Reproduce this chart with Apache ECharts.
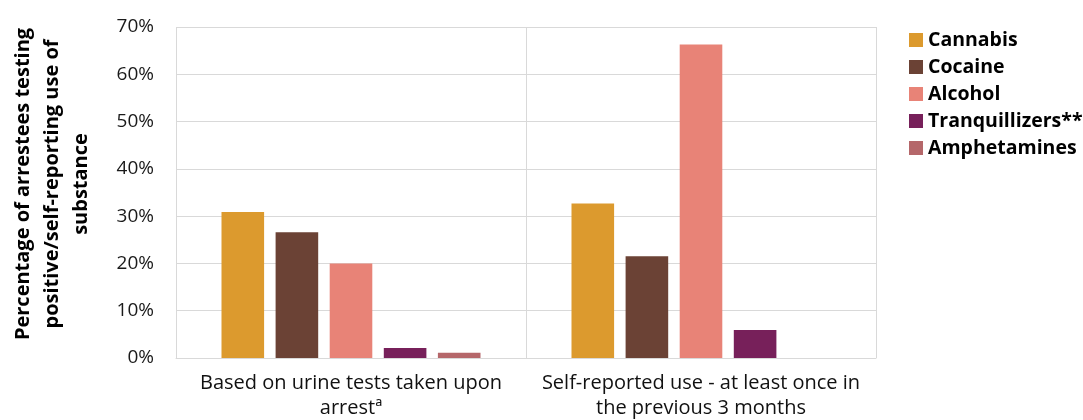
<!DOCTYPE html>
<html><head><meta charset="utf-8">
<script src="https://cdn.jsdelivr.net/npm/echarts@6/dist/echarts.min.js"></script>
<style>html,body{margin:0;padding:0;background:#fff}#c{width:1083px;height:420px}</style>
</head><body><div id="c"></div>
<script>
const categories = ["Based on urine tests taken upon\narrestª", "Self-reported use - at least once in\nthe previous 3 months"];
const seriesNames = ["Cannabis", "Cocaine", "Alcohol", "Tranquillizers**", "Amphetamines"];
const cannabis = [30.9, 32.7];
const cocaine = [26.6, 21.5];
const alcohol = [20.0, 66.3];
const tranquillizers = [2.1, 5.9];
const amphetamines = [1.1, 0];
const yTicks = [0, 10, 20, 30, 40, 50, 60, 70];
const yTitle = "Percentage of arrestees testing\npositive/self-reporting use of\nsubstance";
const colors = ["#DC9A2E", "#6B4235", "#E88377", "#77205A", "#B5676A"];
const values = [cannabis, cocaine, alcohol, tranquillizers, amphetamines];
const font = "'Open Sans', sans-serif";
const chart = echarts.init(document.getElementById('c'), null, {renderer: 'canvas'});
chart.setOption({
  animation: false,
  grid: {left: 176, right: 207, top: 27, bottom: 62, containLabel: false, outerBoundsMode: 'none'},
  legend: {
    orient: 'vertical', left: 904, top: 25, itemWidth: 14, itemHeight: 14, itemGap: 7,
    textStyle: {fontFamily: font, fontSize: 19.5, fontWeight: 'bold', color: '#000'},
    icon: 'rect', data: seriesNames
  },
  graphic: [{
    type: 'text', x: 52, y: 184, rotation: Math.PI / 2,
    style: {text: yTitle, fontFamily: font, fontSize: 20, fontWeight: 'bold', fill: '#000',
      lineHeight: 29, align: 'center', verticalAlign: 'middle'}
  }],
  xAxis: {
    type: 'category', data: categories,
    axisLine: {lineStyle: {color: '#d9d9d9', width: 1}},
    axisTick: {show: false},
    splitLine: {show: true, interval: 0, lineStyle: {color: '#d9d9d9'}},
    axisLabel: {interval: 0, fontFamily: font, fontSize: 20, color: '#111', lineHeight: 25, margin: 13}
  },
  yAxis: {
    type: 'value', min: yTicks[0], max: yTicks[yTicks.length-1], interval: 10,
    axisLabel: {formatter: v => v + '%', fontFamily: font, fontSize: 19, color: '#1a1a1a', margin: 22},
    splitLine: {lineStyle: {color: '#d9d9d9'}},
    axisLine: {show: false}, axisTick: {show: false}
  },
  series: seriesNames.map((n, i) => ({
    name: n, type: 'bar', data: values[i], barGap: '27%', barCategoryGap: '26%',
    itemStyle: {color: colors[i]}
  }))
});
</script></body></html>
